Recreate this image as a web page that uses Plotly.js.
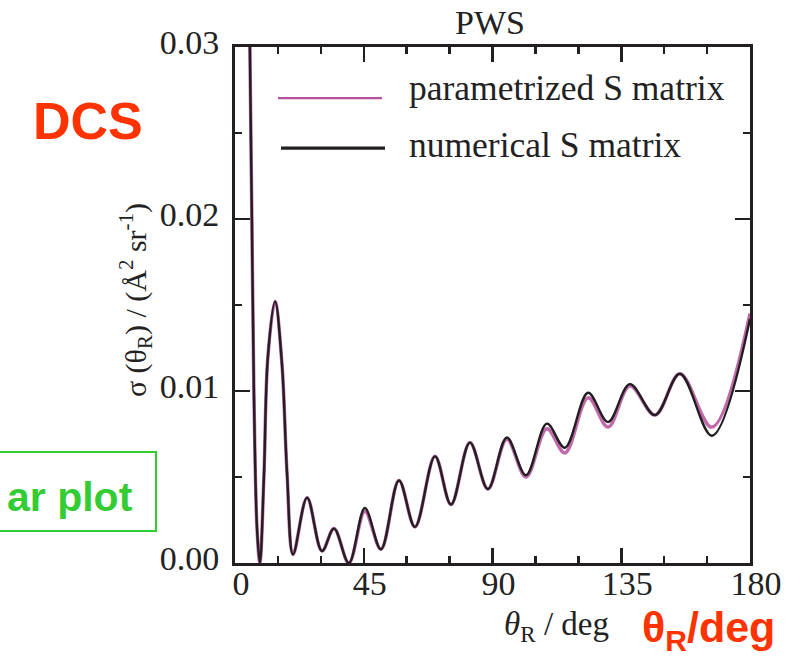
<!DOCTYPE html>
<html>
<head>
<meta charset="utf-8">
<script src="https://cdn.plot.ly/plotly-3.0.1.min.js"></script>
<style>html,body{margin:0;padding:0;background:#fff;}#chart{width:792px;height:657px;}</style>
</head>
<body>
<div id="chart"></div>
<script>
// Scattering angle (deg) and DCS values
const angleNumerical = [3.5, 5.2, 5.9, 6.6, 7.7, 8.7, 10.1, 11.5, 14.0, 16.4, 18.2, 20.3, 25.2, 30.4, 34.6, 39.8, 45.4, 51.0, 57.3, 62.9, 69.9, 75.5, 82.1, 88.4, 95.0, 101.7, 109.0, 115.3, 123.4, 130.4, 138.0, 146.8, 155.5, 166.7, 180];
const dcsNumerical   = [0.060, 0.030, 0.020, 0.010, 0.002, 0.0000, 0.005, 0.012, 0.0152, 0.0116, 0.0052, 0.0005, 0.0038, 0.0007, 0.0020, 0.0000, 0.0032, 0.0008, 0.0048, 0.0021, 0.0062, 0.0034, 0.0070, 0.0043, 0.0073, 0.0051, 0.0081, 0.0067, 0.0099, 0.0082, 0.0104, 0.0086, 0.0110, 0.0074, 0.0142];
const angleParam = [3.5, 5.2, 5.9, 6.6, 7.7, 8.7, 10.1, 11.5, 14.0, 16.4, 18.2, 20.3, 25.2, 30.4, 34.6, 39.8, 45.4, 51.0, 57.3, 62.9, 69.9, 75.5, 82.1, 88.4, 95.0, 101.7, 109.0, 115.3, 123.4, 130.4, 138.0, 146.8, 155.5, 166.7, 180];
const dcsParam   = [0.060, 0.030, 0.020, 0.010, 0.002, 0.0000, 0.005, 0.012, 0.0152, 0.0116, 0.0052, 0.0005, 0.0038, 0.0007, 0.0020, 0.0000, 0.0030, 0.0008, 0.0048, 0.0021, 0.0062, 0.0034, 0.0070, 0.0043, 0.0072, 0.0050, 0.0078, 0.0064, 0.0096, 0.0079, 0.0103, 0.0086, 0.0110, 0.0079, 0.0145];
const seriesNames = ["parametrized S matrix", "numerical S matrix"];
const xTickVals = [0, 45, 90, 135, 180];
const yTickVals = [0.00, 0.01, 0.02, 0.03];

const pink = "#B5509C";
const black = "#231F20";
const red = "#FF3300";
const green = "#33CC33";
const serif = "Liberation Serif, Times New Roman, serif";
const sans = "Liberation Sans, Arial, sans-serif";

const traces = [
  {x: angleParam, y: dcsParam, type: "scatter", mode: "lines", name: seriesNames[0],
   line: {color: pink, width: 3.5, shape: "spline", smoothing: 1}, opacity: 0.85, showlegend: false},
  {x: angleNumerical, y: dcsNumerical, type: "scatter", mode: "lines", name: seriesNames[1],
   line: {color: black, width: 2.4, shape: "spline", smoothing: 1}, showlegend: false}
];

const axisCommon = {
  showline: true, linewidth: 3, linecolor: black, mirror: "ticks",
  ticks: "inside", ticklen: 15, tickwidth: 2.5, tickcolor: black,
  showgrid: false, zeroline: false,
  tickfont: {family: serif, size: 34, color: "#222"}
};

const layout = {
  width: 792, height: 657,
  margin: {l: 235, r: 42, t: 47, b: 94},
  paper_bgcolor: "#fff", plot_bgcolor: "#fff",
  xaxis: Object.assign({}, axisCommon, {
    range: [0, 180], tickvals: xTickVals, ticktext: xTickVals.map(String),
    minor: {ticks: "inside", ticklen: 7, tickwidth: 2.5, tickcolor: black, dtick: 15, tick0: 0},
    ticklabelshift: 6, ticklabelstandoff: -12
  }),
  yaxis: Object.assign({}, axisCommon, {
    range: [0, 0.03], tickvals: yTickVals, ticktext: yTickVals.map(v => v.toFixed(2)),
    minor: {ticks: "inside", ticklen: 7, tickwidth: 2.5, tickcolor: black, dtick: 0.005, tick0: 0},
    ticklabelstandoff: 6, ticklabelshift: -5
  }),
  shapes: [
    {type: "line", xref: "paper", yref: "paper", x0: 0.0835, x1: 0.2854, y0: 0.901, y1: 0.901,
     line: {color: pink, width: 2.3}},
    {type: "line", xref: "paper", yref: "paper", x0: 0.0893, x1: 0.2913, y0: 0.804, y1: 0.804,
     line: {color: black, width: 3.2}},
    {type: "rect", xref: "paper", yref: "paper", x0: -0.5, x1: -0.1534, y0: 0.062, y1: 0.2151,
     line: {color: green, width: 2}, fillcolor: "rgba(0,0,0,0)"}
  ],
  annotations: [
    {text: "PWS", xref: "paper", yref: "paper", x: 0.495, y: 1.048, xanchor: "center", yanchor: "middle",
     showarrow: false, font: {family: serif, size: 34, color: "#222"}},
    {text: seriesNames[0], xref: "paper", yref: "paper", x: 0.334, y: 0.9205, xanchor: "left", yanchor: "middle",
     showarrow: false, font: {family: serif, size: 35.5, color: "#222"}},
    {text: seriesNames[1], xref: "paper", yref: "paper", x: 0.334, y: 0.810, xanchor: "left", yanchor: "middle",
     showarrow: false, font: {family: serif, size: 35.5, color: "#222"}},
    {text: "<i>θ</i><sub>R</sub> / deg", xref: "paper", yref: "paper", x: 0.625, y: -0.124, xanchor: "center", yanchor: "middle",
     showarrow: false, font: {family: serif, size: 33, color: "#222"}},
    {text: "σ (θ<sub>R</sub>) / (Å<sup>2</sup> sr<sup>-1</sup>)", xref: "paper", yref: "paper", x: -0.192, y: 0.5097,
     xanchor: "center", yanchor: "middle", textangle: -90,
     showarrow: false, font: {family: serif, size: 30, color: "#222"}},
    {text: "<b>DCS</b>", xref: "paper", yref: "paper", x: -0.1748, y: 0.8566, xanchor: "right", yanchor: "middle",
     showarrow: false, font: {family: sans, size: 52, color: red}},
    {text: "<b>θ<sub>R</sub>/deg</b>", xref: "paper", yref: "paper", x: 0.7864, y: -0.129, xanchor: "left", yanchor: "middle",
     showarrow: false, font: {family: sans, size: 43, color: red}},
    {text: "<b>ar plot</b>", xref: "paper", yref: "paper", x: -0.1942, y: 0.1279, xanchor: "right", yanchor: "middle",
     showarrow: false, font: {family: sans, size: 41, color: green}}
  ]
};

Plotly.newPlot("chart", traces, layout, {staticPlot: true, displayModeBar: false});
</script>
</body>
</html>
